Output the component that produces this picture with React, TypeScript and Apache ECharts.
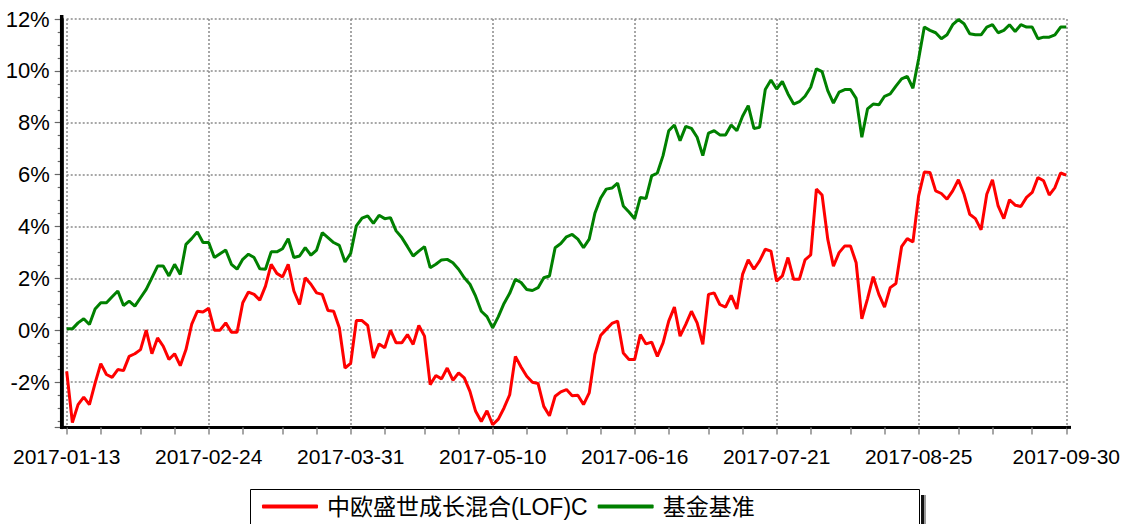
import React, { useEffect, useRef } from "react";
import * as echarts from "echarts";

// Exchange holidays (weekdays without trading) in the period
const holidays = [
  "2017-01-27", "2017-01-30", "2017-01-31", "2017-02-01", "2017-02-02",
  "2017-04-03", "2017-04-04", "2017-05-01", "2017-05-29", "2017-05-30",
];
const startDate = "2017-01-13";
const lastTradingDate = "2017-09-29";
const reportDate = "2017-09-30";

function buildDates(): string[] {
  const out: string[] = [];
  const d = new Date(startDate + "T00:00:00Z");
  const end = new Date(lastTradingDate + "T00:00:00Z");
  while (d.getTime() <= end.getTime()) {
    const s = d.toISOString().slice(0, 10);
    const wd = d.getUTCDay();
    if (wd !== 0 && wd !== 6 && holidays.indexOf(s) < 0) out.push(s);
    d.setUTCDate(d.getUTCDate() + 1);
  }
  out.push(reportDate);
  return out;
}
const dates = buildDates();

const fundName = "中欧盛世成长混合(LOF)C";
const benchName = "基金基准";

// cumulative return, %
const fundValues = [
  -1.59, -3.56, -2.87, -2.58, -2.87, -2.04, -1.29, -1.71, -1.82, -1.52,
  -1.56, -1.01, -0.91, -0.75, 0.0, -0.91, -0.3, -0.62, -1.13, -0.91,
  -1.37, -0.75, 0.22, 0.73, 0.7, 0.84, 0.0, 0.0, 0.28, -0.08,
  -0.08, 1.06, 1.47, 1.38, 1.16, 1.7, 2.54, 2.19, 2.05, 2.54,
  1.51, 0.99, 2.02, 1.77, 1.44, 1.38, 0.76, 0.73, 0.09, -1.46,
  -1.28, 0.37, 0.37, 0.18, -1.07, -0.53, -0.68, 0.0, -0.49, -0.49,
  -0.17, -0.55, 0.18, -0.23, -2.1, -1.75, -1.88, -1.46, -1.93, -1.65,
  -1.84, -2.36, -3.13, -3.52, -3.11, -3.65, -3.43, -3.0, -2.49, -1.01,
  -1.42, -1.78, -2.01, -2.06, -2.94, -3.3, -2.55, -2.38, -2.29, -2.53,
  -2.51, -2.87, -2.42, -0.94, -0.21, 0.03, 0.26, 0.35, -0.88, -1.13,
  -1.13, -0.17, -0.53, -0.46, -1.01, -0.49, 0.35, 0.89, -0.23, 0.22,
  0.73, 0.28, -0.55, 1.38, 1.44, 0.99, 0.89, 1.34, 0.82, 2.15,
  2.71, 2.35, 2.67, 3.12, 3.05, 1.89, 2.09, 2.8, 1.96, 1.96,
  2.71, 2.9, 5.44, 5.21, 3.51, 2.47, 2.99, 3.25, 3.25, 2.6,
  0.44, 1.21, 2.06, 1.38, 0.89, 1.64, 1.8, 3.22, 3.53, 3.4,
  5.18, 6.1, 6.08, 5.37, 5.27, 5.05, 5.37, 5.8, 5.24, 4.47,
  4.3, 3.87, 5.24, 5.8, 4.79, 4.3, 5.03, 4.82, 4.77, 5.12,
  5.31, 5.89, 5.76, 5.21, 5.5, 6.06, 5.98,
];

const benchValues = [
  0.05, 0.05, 0.28, 0.44, 0.22, 0.82, 1.06, 1.06, 1.29, 1.51,
  0.95, 1.12, 0.93, 1.25, 1.57, 2.02, 2.47, 2.47, 2.09, 2.54,
  2.15, 3.31, 3.53, 3.79, 3.38, 3.38, 2.8, 2.95, 3.09, 2.54,
  2.35, 2.73, 2.93, 2.8, 2.37, 2.35, 3.02, 3.02, 3.14, 3.53,
  2.8, 2.86, 3.18, 2.89, 3.09, 3.76, 3.57, 3.38, 3.27, 2.63,
  2.96, 4.02, 4.32, 4.41, 4.12, 4.43, 4.3, 4.34, 3.83, 3.57,
  3.22, 2.86, 3.05, 3.22, 2.41, 2.54, 2.71, 2.73, 2.6, 2.35,
  2.02, 1.77, 1.31, 0.73, 0.52, 0.09, 0.52, 1.03, 1.42, 1.96,
  1.84, 1.57, 1.53, 1.64, 2.02, 2.09, 3.18, 3.34, 3.6, 3.69,
  3.51, 3.18, 3.51, 4.51, 5.09, 5.44, 5.48, 5.67, 4.79, 4.56,
  4.3, 5.12, 5.08, 5.95, 6.06, 6.73, 7.69, 7.91, 7.31, 7.86,
  7.78, 7.44, 6.73, 7.6, 7.69, 7.53, 7.53, 7.91, 7.69, 8.25,
  8.66, 7.78, 7.82, 9.28, 9.65, 9.3, 9.59, 9.11, 8.72, 8.81,
  9.02, 9.37, 10.08, 9.97, 9.24, 8.76, 9.18, 9.28, 9.28, 8.94,
  7.44, 8.53, 8.72, 8.69, 9.02, 9.11, 9.41, 9.69, 9.79, 9.33,
  10.46, 11.69, 11.56, 11.47, 11.24, 11.39, 11.78, 11.98, 11.82, 11.43,
  11.39, 11.39, 11.69, 11.78, 11.47, 11.56, 11.78, 11.52, 11.78, 11.69,
  11.69, 11.24, 11.3, 11.3, 11.39, 11.69, 11.69,
];

// category indices that carry a date label / a tick mark
const labelIndices = [0, 25, 50, 75, 100, 125, 150, 176];
const tickIndices = (() => {
  const r: number[] = [];
  for (let k = 0; k < labelIndices.length - 1; k++) {
    const a = labelIndices[k];
    const b = labelIndices[k + 1];
    for (let j = 0; j < 4; j++) r.push(a + Math.round(((b - a) * j) / 4));
  }
  r.push(labelIndices[labelIndices.length - 1]);
  return r;
})();

const FONT = "'Liberation Sans', Arial, 'Noto Sans CJK SC', sans-serif";

export default function App() {
  const ref = useRef<HTMLDivElement>(null);
  useEffect(() => {
    if (!ref.current) return;
    const chart = echarts.init(ref.current, undefined, { renderer: "svg" });
    const gridLeft = 66.7;
    const gridRight = 1066.7;
    const gridTop = 19;
    const gridBottomY = 427.4;
    const axisX = 61.7;
    const dotted = { color: "#8a8a8a", width: 1.5, type: [2, 2] as any };
    chart.setOption({
      animation: false,
      backgroundColor: "#fff",
      textStyle: { fontFamily: FONT },
      grid: {
        left: gridLeft,
        right: 1123 - gridRight,
        top: gridTop,
        bottom: 524 - gridBottomY,
        containLabel: false,
      },
      legend: {
        data: [fundName, benchName],
        left: 257,
        top: 490,
        icon: "roundRect",
        itemWidth: 56,
        itemHeight: 4,
        itemGap: 10,
        textStyle: {
          fontSize: 23,
          color: "#000",
          fontFamily: FONT,
          padding: [0, 0, 0, 4],
        },
      },
      xAxis: {
        type: "category",
        data: dates,
        boundaryGap: false,
        axisLine: { onZero: false, lineStyle: { color: "#000", width: 3 } },
        axisTick: {
          show: true,
          length: 7,
          interval: (i: number) => tickIndices.indexOf(i) >= 0,
          lineStyle: { color: "#888", width: 1.5 },
        },
        axisLabel: {
          interval: (i: number) => labelIndices.indexOf(i) >= 0,
          fontSize: 21,
          color: "#000",
          margin: 19,
          fontFamily: FONT,
        },
        splitLine: {
          show: true,
          interval: (i: number) => labelIndices.indexOf(i) >= 0,
          lineStyle: dotted,
        },
      },
      yAxis: {
        type: "value",
        min: -3.75,
        max: 12,
        splitNumber: 8,
        minInterval: 2,
        maxInterval: 2,
        offset: gridLeft - axisX,
        axisLine: { show: true, lineStyle: { color: "#000", width: 3.5 } },
        axisTick: { show: true, length: 7, lineStyle: { color: "#666", width: 1.2 } },
        minorTick: { show: true, splitNumber: 4, length: 4, lineStyle: { color: "#666", width: 1.2 } },
        axisLabel: {
          formatter: (v: number) => `${v}%`,
          fontSize: 22,
          color: "#000",
          margin: 12,
          showMinLabel: false,
          fontFamily: FONT,
        },
        splitLine: { show: true, lineStyle: dotted },
      },
      series: [
        {
          name: fundName,
          type: "line",
          data: fundValues,
          showSymbol: false,
          symbol: "none",
          z: 3,
          lineStyle: { color: "#ff0000", width: 3 },
          itemStyle: { color: "#ff0000" },
        },
        {
          name: benchName,
          type: "line",
          data: benchValues,
          showSymbol: false,
          symbol: "none",
          z: 2,
          lineStyle: { color: "#008000", width: 3 },
          itemStyle: { color: "#008000" },
        },
      ],
      graphic: [
        {
          type: "rect",
          z: 0,
          shape: { x: 921, y: 495, width: 3, height: 40 },
          style: { fill: "#111" },
        },
        {
          type: "rect",
          z: 0,
          shape: { x: 924, y: 495, width: 2, height: 40 },
          style: { fill: "#999" },
        },
        {
          type: "rect",
          z: 1,
          shape: { x: 250.5, y: 489.5, width: 669, height: 40 },
          style: { fill: "#fff", stroke: "#000", lineWidth: 1 },
        },
        {
          type: "line",
          z: 5,
          shape: { x1: axisX - 1.5, y1: gridBottomY, x2: gridLeft, y2: gridBottomY },
          style: { stroke: "#000", lineWidth: 3 },
        },
        {
          type: "line",
          z: 5,
          shape: { x1: gridRight, y1: gridBottomY, x2: 1071, y2: gridBottomY },
          style: { stroke: "#000", lineWidth: 3 },
        },
        {
          type: "line",
          z: 5,
          shape: { x1: axisX, y1: 15, x2: axisX, y2: gridBottomY + 1.5 },
          style: { stroke: "#000", lineWidth: 3.5 },
        },
      ],
    });
    return () => chart.dispose();
  }, []);
  return (
    <div
      ref={ref}
      style={{ position: "fixed", left: 0, top: 0, width: 1123, height: 524, background: "#fff" }}
    />
  );
}
